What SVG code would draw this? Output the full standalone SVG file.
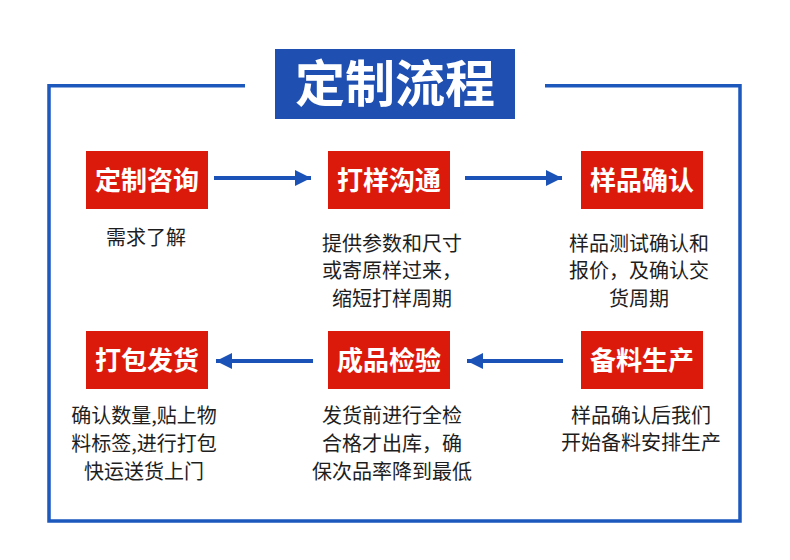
<svg xmlns="http://www.w3.org/2000/svg" width="790" height="560" viewBox="0 0 790 560">
  <defs>
    <style>
      .frame { fill: none; stroke: #1d58bd; stroke-width: 3.5; }
      .node rect { fill: #dc1a0c; }
      .node text.label { font-family: "Noto Sans CJK SC", "Noto Sans", sans-serif; font-size: 26px; font-weight: 700; fill: #ffffff; text-anchor: middle; }
      .desc { font-family: "Noto Sans CJK SC", "Noto Sans", sans-serif; font-size: 20px; fill: #1e1e1e; text-anchor: middle; }
      .conn { stroke: #1a52b8; stroke-width: 4; fill: none; }
      .title-bg { fill: #1f4fb0; }
      .title { font-family: "Noto Sans CJK SC", "Noto Sans", sans-serif; font-size: 50px; font-weight: 700; fill: #ffffff; text-anchor: middle; }
    </style>
    <marker id="arrow" viewBox="0 0 10 10" refX="10" refY="5" markerWidth="4" markerHeight="4.4" markerUnits="strokeWidth" orient="auto">
      <path d="M0,0 L10,5 L0,10 Z" fill="#1a52b8"/>
    </marker>
  </defs>
  <rect width="790" height="560" fill="#ffffff"/>

  <g id="frame">
    <polyline class="frame" points="245,85.7 49,85.7 49,521 740,521 740,85.7 545,85.7"/>
  </g>

  <g id="title">
    <rect class="title-bg" x="275" y="49" width="240" height="70"/>
    <text class="title" x="395" y="102">定制流程</text>
  </g>

  <g id="connectors">
    <line class="conn" x1="214" y1="178" x2="311" y2="178" marker-end="url(#arrow)"/>
    <line class="conn" x1="465" y1="178" x2="562" y2="178" marker-end="url(#arrow)"/>
    <line class="conn" x1="563" y1="361" x2="467" y2="361" marker-end="url(#arrow)"/>
    <line class="conn" x1="313" y1="361" x2="216" y2="361" marker-end="url(#arrow)"/>
  </g>

  <g id="node-consult" class="node">
    <rect x="86" y="151" width="122" height="58"/>
    <text class="label" x="147" y="190">定制咨询</text>
    <text class="desc" x="146" y="245">需求了解</text>
  </g>

  <g id="node-sample" class="node">
    <rect x="328" y="151" width="122" height="58"/>
    <text class="label" x="389" y="190">打样沟通</text>
    <text class="desc" x="392" y="251">提供参数和尺寸</text>
    <text class="desc" x="392" y="278">或寄原样过来，</text>
    <text class="desc" x="392" y="306">缩短打样周期</text>
  </g>

  <g id="node-confirm" class="node">
    <rect x="581" y="151" width="122" height="58"/>
    <text class="label" x="642" y="190">样品确认</text>
    <text class="desc" x="639" y="251">样品测试确认和</text>
    <text class="desc" x="639" y="278">报价，及确认交</text>
    <text class="desc" x="639" y="306">货周期</text>
  </g>

  <g id="node-produce" class="node">
    <rect x="581" y="331" width="122" height="58"/>
    <text class="label" x="642" y="370">备料生产</text>
    <text class="desc" x="641" y="423">样品确认后我们</text>
    <text class="desc" x="641" y="450">开始备料安排生产</text>
  </g>

  <g id="node-inspect" class="node">
    <rect x="328" y="331" width="122" height="58"/>
    <text class="label" x="389" y="370">成品检验</text>
    <text class="desc" x="392" y="423">发货前进行全检</text>
    <text class="desc" x="392" y="451">合格才出库，确</text>
    <text class="desc" x="392" y="479">保次品率降到最低</text>
  </g>

  <g id="node-ship" class="node">
    <rect x="86" y="331" width="122" height="58"/>
    <text class="label" x="147" y="370">打包发货</text>
    <text class="desc" x="144" y="423">确认数量,贴上物</text>
    <text class="desc" x="144" y="451">料标签,进行打包</text>
    <text class="desc" x="144" y="479">快运送货上门</text>
  </g>
</svg>
